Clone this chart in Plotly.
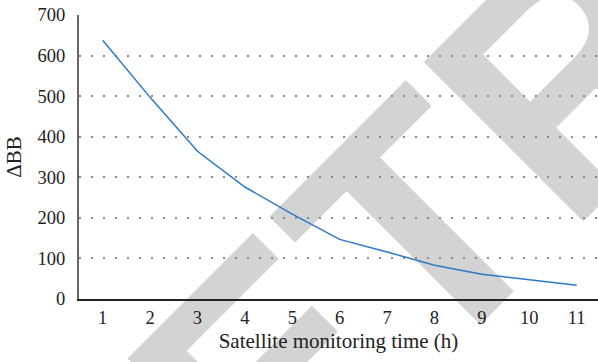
import base64
import plotly.graph_objects as go

# ---- data ----
hours = [1, 2, 3, 4, 5, 6, 7, 8, 9, 10, 11]
delta_bb = [638, 497, 364, 276, 209, 147, 116, 83, 61, 48, 34]
y_ticks = [0, 100, 200, 300, 400, 500, 600, 700]
x_title = "Satellite monitoring time (h)"
y_title = "ΔBB"
watermark_text = "RETRACTED"

W, H = 598, 362
ML, MR, MT, MB = 79, 0, 15, 63
PW, PH = W - ML - MR, H - MT - MB

svg = (
    f'<svg xmlns="http://www.w3.org/2000/svg" width="{W}" height="{H}" viewBox="0 0 {W} {H}">'
    f'<text x="104" y="701" transform="rotate(-45 104 701)" '
    f'font-family="Liberation Sans, Arial, sans-serif" font-weight="bold" '
    f'font-size="328" fill="#d3d3d3">{watermark_text}</text></svg>'
)
src = "data:image/svg+xml;base64," + base64.b64encode(svg.encode()).decode()

fig = go.Figure()
fig.add_trace(go.Scatter(
    x=hours, y=delta_bb, mode="lines",
    line=dict(color="#2a78c6", width=1.5),
    showlegend=False, hoverinfo="skip",
))

font_family = "Liberation Serif"

fig.update_layout(
    width=W, height=H,
    margin=dict(l=ML, r=MR, t=MT, b=MB, autoexpand=False),
    paper_bgcolor="white", plot_bgcolor="white",
    font=dict(family=font_family, size=18, color="#222"),
    images=[dict(
        source=src, xref="paper", yref="paper",
        x=-ML / PW, y=1 + MT / PH, sizex=W / PW, sizey=H / PH,
        xanchor="left", yanchor="top", sizing="stretch", layer="below",
    )],
    xaxis=dict(
        range=[0.5, 11.45], tickmode="array", tickvals=hours,
        ticktext=[str(h) for h in hours],
        showgrid=False, zeroline=False, automargin=False,
        showline=True, linecolor="#222", linewidth=1.5,
        ticks="", ticklabelstandoff=1,
        tickfont=dict(family=font_family, size=18.5),
        title=dict(text=x_title, standoff=6, font=dict(family=font_family, size=21)),
    ),
    yaxis=dict(
        range=[0, 700], tickmode="array", tickvals=y_ticks,
        showgrid=True, gridcolor="#8a8a8a", gridwidth=1.5,
        griddash="1.5px,10.5px",
        zeroline=False, automargin=False,
        showline=True, linecolor="#666", linewidth=2,
        ticks="", ticklabelstandoff=8,
        tickfont=dict(family=font_family, size=18.5),
        title=dict(text=y_title, standoff=10, font=dict(family=font_family, size=21)),
    ),
)

fig.write_html(
    "out.html",
    config={"displayModeBar": False},
    post_script="document.body.style.margin='0';",
)
